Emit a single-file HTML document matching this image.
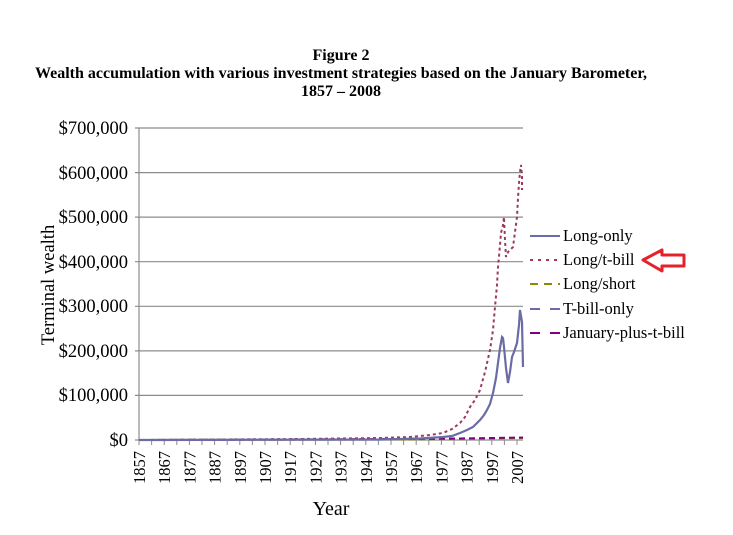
<!DOCTYPE html>
<html><head><meta charset="utf-8"><style>
body{margin:0;background:#fff}
svg{display:block;font-family:"Liberation Serif",serif}
</style></head><body>
<svg width="733" height="535" viewBox="0 0 733 535">
<g font-weight="bold" font-size="16" text-anchor="middle" fill="#000">
<text x="341" y="60">Figure 2</text>
<text x="341" y="78">Wealth accumulation with various investment strategies based on the January Barometer,</text>
<text x="341" y="96">1857 – 2008</text>
</g>
<g stroke="#8c8c8c" stroke-width="1.2">
<line x1="135" y1="128" x2="523" y2="128"/>
<line x1="135" y1="172.6" x2="523" y2="172.6"/>
<line x1="135" y1="217.1" x2="523" y2="217.1"/>
<line x1="135" y1="261.7" x2="523" y2="261.7"/>
<line x1="135" y1="306.3" x2="523" y2="306.3"/>
<line x1="135" y1="350.9" x2="523" y2="350.9"/>
<line x1="135" y1="395.4" x2="523" y2="395.4"/>
<line x1="135" y1="440" x2="523" y2="440"/>
<line x1="139" y1="128" x2="139" y2="440"/>
</g>
<g stroke="#8c8c8c" stroke-width="1" id="ticks"></g>
<g font-size="18.5" text-anchor="end" fill="#000">
<text x="128" y="134">$700,000</text>
<text x="128" y="179">$600,000</text>
<text x="128" y="223">$500,000</text>
<text x="128" y="268">$400,000</text>
<text x="128" y="312">$300,000</text>
<text x="128" y="357">$200,000</text>
<text x="128" y="401">$100,000</text>
<text x="128" y="446">$0</text>
</g>
<g font-size="16.5" fill="#000" id="years"></g>
<text font-size="18.5" transform="translate(54,285) rotate(-90)" text-anchor="middle">Terminal wealth</text>
<text font-size="20" x="331" y="515" text-anchor="middle">Year</text>
<polyline fill="none" stroke="#8b8b00" stroke-width="2" stroke-dasharray="6,4" points="139,440 400,439.5 460,439 523,438"/>
<polyline fill="none" stroke="#800080" stroke-width="2" stroke-dasharray="6,4" points="139,440 400,439 460,438.5 523,437.5"/>
<polyline fill="none" stroke="#9b3a5a" stroke-width="2" stroke-dasharray="3,3" points="139,440 300,439 380,438 410,437 430,435 443,433 452,429 460,423 465,417 470,407 475,400 480,390 485,372 490,350 493,330 495,307 497,285 498,267 500,245 501,233 503,225 504,217 505,240 506,257 508,252 510,250 512,248 513,247 515,232 517,217 518,198 519,183 520,172 521,165 522,177 522,190"/>
<polyline fill="none" stroke="#6b6ba6" stroke-width="2.2" points="139,440 380,439.5 420,438.5 443,437 452,436 460,433 467,430 473,427 480,420 484,415 487,410 490,404 493,393 496,378 498,363 500,348 502,337 503,338 504,347 506,368 508,383 510,372 512,357 514,352 517,343 519,325 520,310 521,316 522,322 523,367"/>
<g font-size="16.5" fill="#000">
<line x1="530" y1="236" x2="560" y2="236" stroke="#6b6ba6" stroke-width="2"/>
<text x="563" y="241">Long-only</text>
<line x1="530" y1="260" x2="560" y2="260" stroke="#9b3a5a" stroke-width="2" stroke-dasharray="3,5"/>
<text x="563" y="265">Long/t-bill</text>
<line x1="530" y1="284" x2="560" y2="284" stroke="#8b8b00" stroke-width="2" stroke-dasharray="8,6"/>
<text x="563" y="289">Long/short</text>
<line x1="530" y1="309" x2="560" y2="309" stroke="#6b6ba6" stroke-width="2" stroke-dasharray="10,10"/>
<text x="563" y="314">T-bill-only</text>
<line x1="530" y1="333" x2="560" y2="333" stroke="#800080" stroke-width="2" stroke-dasharray="10,10"/>
<text x="563" y="338">January-plus-t-bill</text>
</g>
<polygon points="643,260 662,250 662,255 684,255 684,266 662,266 662,271" fill="none" stroke="#e8202a" stroke-width="3" stroke-linejoin="round"/>
</svg>
<script>
var t=document.getElementById('ticks'),y=document.getElementById('years'),ns='http://www.w3.org/2000/svg';
for(var yr=1857;yr<=2008;yr+=5){var x=139+(yr-1857)*2.52;var l=document.createElementNS(ns,'line');l.setAttribute('x1',x);l.setAttribute('x2',x);l.setAttribute('y1',440);l.setAttribute('y2',445);t.appendChild(l);}
for(var yr=1857;yr<=2007;yr+=10){var x=139+(yr-1857)*2.52+6;var e=document.createElementNS(ns,'text');e.setAttribute('transform','translate('+x+',451) rotate(-90)');e.setAttribute('text-anchor','end');e.textContent=yr;y.appendChild(e);}
</script>
</body></html>
